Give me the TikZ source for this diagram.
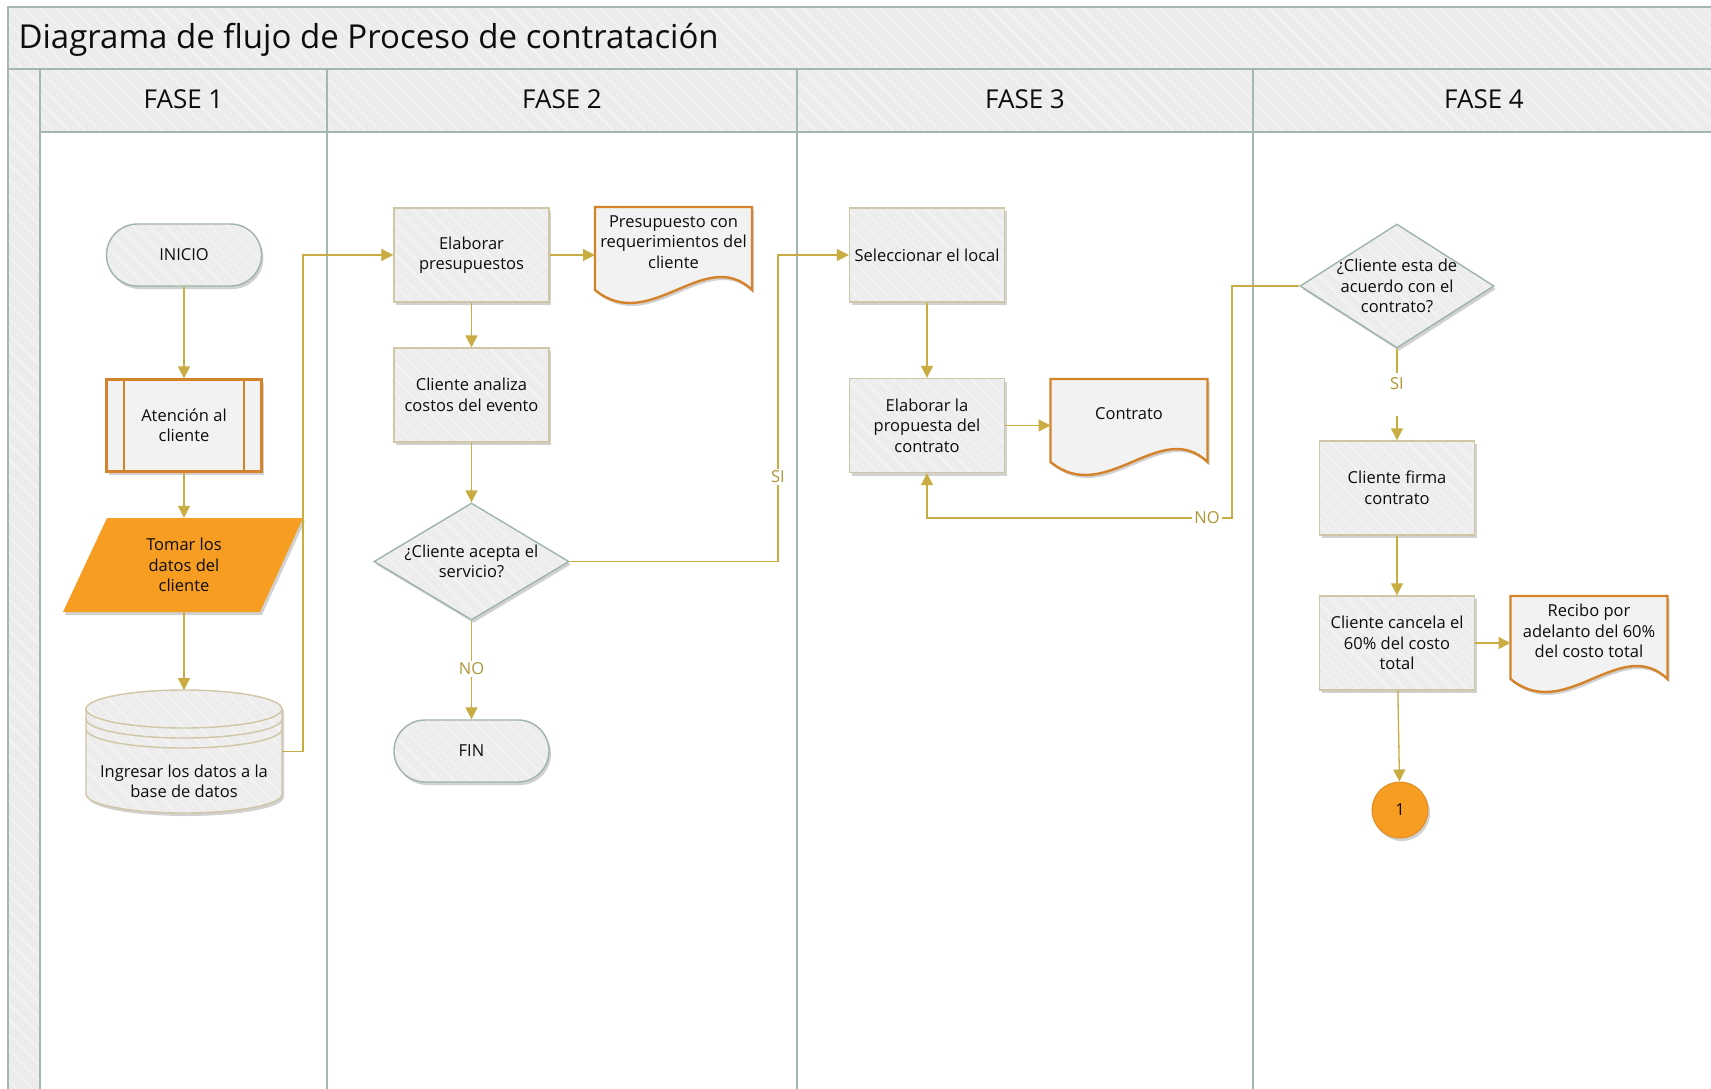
\documentclass[tikz,border=0pt]{standalone}
\usepackage{fontspec}
\setmainfont{Open Sans}
\usetikzlibrary{arrows.meta,patterns.meta,shadows,shapes.geometric}
\definecolor{bandfill}{HTML}{ECECEC}
\definecolor{stripecol}{HTML}{F4F4F4}
\definecolor{laneline}{HTML}{A3B7AF}
\definecolor{boxfill}{HTML}{EDEDED}
\definecolor{tanline}{HTML}{CFC6A6}
\definecolor{sageline}{HTML}{9FB4AB}
\definecolor{orangeline}{HTML}{D4832A}
\definecolor{orangefill}{HTML}{F69D22}
\definecolor{conncol}{HTML}{C9AC42}
\definecolor{lblcol}{HTML}{B09536}
\definecolor{docfill}{HTML}{F2F2F2}
\pgfdeclarelayer{lanes}
\pgfdeclarelayer{shapes}
\pgfsetlayers{lanes,shapes,main}
\tikzset{
  softshadow/.style={drop shadow={shadow xshift=2pt,shadow yshift=-3pt,opacity=0.18,fill=black}},
  hatched/.style={preaction={fill=#1},preaction={pattern={Lines[angle=-45,distance=11pt,line width=1.5pt]},pattern color=stripecol}},
  txt/.style={font=\fontsize{16.5}{20.5}\selectfont,align=center,text=black!95},
  procbox/.style={txt,draw=tanline,line width=1.4pt,softshadow,hatched=boxfill,minimum width=155pt,minimum height=94pt,inner sep=1pt},
  termbox/.style={txt,draw=sageline,line width=1.4pt,softshadow,hatched=boxfill,minimum width=155pt,minimum height=62pt,rounded corners=31pt},
  prebox/.style={txt,draw=orangeline,line width=2.4pt,softshadow,fill=docfill,minimum width=155pt,minimum height=92pt},
  decision/.style={shape=diamond,draw=sageline,line width=1.4pt,softshadow,hatched=boxfill,inner sep=0pt},
  docnode/.style={txt,minimum width=157pt,minimum height=70pt,inner sep=0pt,outer sep=0pt},
  docshape/.style={draw=orangeline,line width=2.4pt,softshadow,fill=docfill},
  conn/.style={draw=conncol,line width=1.3pt,-{Triangle[length=12pt,width=12pt]}},
  connline/.style={draw=conncol,line width=1.3pt},
  lbl/.style={font=\fontsize{16.5}{19}\selectfont,text=lblcol,fill=white,inner sep=2pt},
  band/.style={draw=laneline,line width=1.5pt,hatched=bandfill},
  lanehead/.style={font=\fontsize{26}{30}\selectfont,text=black!95},
}
\begin{document}
\begin{tikzpicture}[x=1pt,y=-1pt]
\useasboundingbox (0,0) rectangle (1711,1088);
\begin{pgfonlayer}{lanes}
  \fill[white] (0,0) rectangle (1711,1088);
  \path[band] (8,7) rectangle (1730,69);
  \path[band] (40,69) rectangle (1730,132);
  \path[band] (8,69) rectangle (40,1100);
  \draw[laneline,line width=1.5pt] (327,69) -- (327,1100) (797,69) -- (797,1100) (1253,69) -- (1253,1100);
\end{pgfonlayer}

\node[anchor=west,font=\fontsize{33}{38}\selectfont,text=black!95] (title) at (15,40) {Diagrama de flujo de Proceso de contratación};
\node[lanehead] (h1) at (183.5,99) {FASE 1};
\node[lanehead] (h2) at (562,99) {FASE 2};
\node[lanehead] (h3) at (1025,99) {FASE 3};
\node[lanehead] (h4) at (1484,99) {FASE 4};

\node[termbox] (inicio) at (184,255) {INICIO};
\node[prebox] (aten) at (184,425.5) {Atención al\\cliente};
\node[txt,minimum width=197pt,minimum height=94pt,inner sep=0pt] (tomar) at (184,565) {Tomar los\\datos del\\cliente};
\node[minimum width=196pt,minimum height=123pt,inner sep=0pt,outer sep=0pt,label={[txt,yshift=-30pt]center:Ingresar los datos a la\\base de datos}] (db) at (184,751.5) {};

\node[procbox] (elab) at (471.5,255) {Elaborar\\presupuestos};
\node[docnode,anchor=north] (pres) at (673.5,207) {Presupuesto con\\requerimientos del\\cliente};
\node[procbox] (anal) at (471.5,395) {Cliente analiza\\costos del evento};
\node[decision,minimum width=195pt,minimum height=117pt,label={[txt]center:¿Cliente acepta el\\servicio?}] (d1) at (471.5,561.5) {};
\node[termbox] (fin) at (471.5,751) {FIN};

\node[procbox] (sel) at (927,255) {Seleccionar el local};
\node[procbox] (prop) at (927,425.5) {Elaborar la\\propuesta del\\contrato};
\node[docnode,anchor=north] (cont) at (1129,379) {Contrato};

\node[decision,minimum width=194pt,minimum height=124pt,label={[txt]center:¿Cliente esta de\\acuerdo con el\\contrato?}] (d2) at (1397,286) {};
\node[procbox] (firma) at (1397,488) {Cliente firma\\contrato};
\node[procbox] (canc) at (1397,643) {Cliente cancela el\\60\% del costo\\total};
\node[docnode,anchor=north] (rec) at (1589,596) {Recibo por\\adelanto del 60\%\\del costo total};
\node[txt,circle,fill=orangefill,draw=orangeline!60!orangefill,line width=1pt,softshadow,minimum size=56pt,inner sep=0pt] (c1) at (1400,810) {1};

\begin{pgfonlayer}{shapes}
  \path[softshadow,fill=orangefill] (107,518) -- (303,518) -- (260,612) -- (63,612) -- cycle;
  \path[softshadow,hatched=boxfill,draw=tanline,line width=1.4pt]
    (86,709) -- (86,794) .. controls (86,804.5) and (130.1,813) .. (184,813)
    .. controls (237.9,813) and (282,804.5) .. (282,794) -- (282,709)
    .. controls (282,698.5) and (237.9,690) .. (184,690)
    .. controls (130.1,690) and (86,698.5) .. (86,709) -- cycle;
  \draw[tanline,line width=1.4pt]
    (86,709) .. controls (86,719.5) and (130.1,728) .. (184,728) .. controls (237.9,728) and (282,719.5) .. (282,709)
    (86,719) .. controls (86,729.5) and (130.1,738) .. (184,738) .. controls (237.9,738) and (282,729.5) .. (282,719)
    (86,729) .. controls (86,739.5) and (130.1,748) .. (184,748) .. controls (237.9,748) and (282,739.5) .. (282,729);
  \path[docshape,shift={(pres.north west)}] (0,0) -- (157,0) -- (157,83) .. controls (110,38) and (55,128) .. (0,83) -- cycle;
  \path[docshape,shift={(cont.north west)}] (0,0) -- (157,0) -- (157,83) .. controls (110,38) and (55,128) .. (0,83) -- cycle;
  \path[docshape,shift={(rec.north west)}] (0,0) -- (157,0) -- (157,83) .. controls (110,38) and (55,128) .. (0,83) -- cycle;
\end{pgfonlayer}

\draw[orangeline,line width=2pt] ([xshift=19pt]aten.north west) -- ([xshift=19pt]aten.south west)
  ([xshift=-19pt]aten.north east) -- ([xshift=-19pt]aten.south east);

\draw[conn] (inicio) -- (aten);
\draw[conn] (aten) -- (tomar);
\draw[conn] (tomar) -- (db);
\draw[conn] (db.east) -- ++(21,0) |- (elab.west);
\draw[conn] (elab.east) -- (elab.east -| pres.west);
\draw[conn] (elab) -- (anal);
\draw[conn] (anal) -- (d1);
\draw[conn] (d1) -- node[lbl,pos=.49]{NO} (fin);
\coordinate (j1) at (778,561.5);
\draw[conn] (d1.east) -- (j1) -- node[lbl,pos=.276]{SI} (j1 |- sel.west) -- (sel.west);
\draw[conn] (sel) -- (prop);
\draw[conn] (prop.east) -- (prop.east -| cont.west);
\coordinate (j2) at (1232,518);
\draw[conn] (d2.west) -- (d2.west -| j2) -- (j2) -- node[lbl,pos=.082]{NO} (j2 -| prop.south) -- (prop.south);
\coordinate (s2a) at (1397,373);
\coordinate (s2b) at (1397,416);
\draw[connline] (d2.south) -- (s2a);
\node[lbl,fill=none] (si2) at (1397,384) {SI};
\draw[conn] (s2b) -- (firma.north);
\draw[conn] (firma) -- (canc);
\draw[conn] (canc.east) -- (canc.east -| rec.west);
\draw[conn] (canc) -- (c1);
\end{tikzpicture}
\end{document}
